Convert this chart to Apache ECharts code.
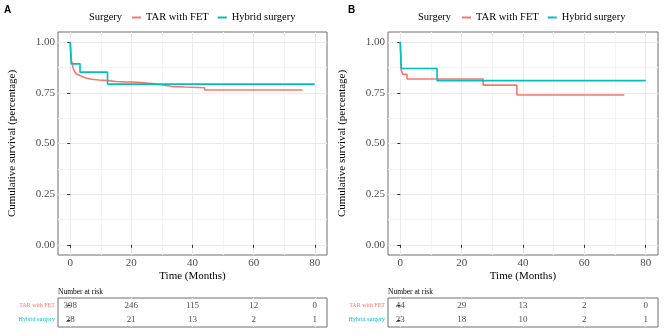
<!DOCTYPE html>
<html><head><meta charset="utf-8">
<script src="https://cdn.jsdelivr.net/npm/echarts@6/dist/echarts.min.js"></script>
<style>html,body{margin:0;padding:0;background:#fff}#c{width:669px;height:336px}</style>
</head><body><div id="c"></div>
<script>
// ---- Data ----
const seriesNames = ['TAR with FET', 'Hybrid surgery'];
// Panel A: Kaplan-Meier step points (time in months, survival)
const timeA_tar = [0, 0.2, 0.4, 0.7, 1.0, 1.5, 2.0, 2.6, 3.3, 4.2, 5.5, 7, 9.5, 12.4, 15, 18, 22, 25, 27.7, 29.7, 33, 37.5, 44, 76];
const survA_tar = [1.0, 0.95, 0.91, 0.89, 0.87, 0.853, 0.843, 0.835, 0.828, 0.822, 0.817, 0.813, 0.810, 0.806, 0.804, 0.802, 0.798, 0.795, 0.79, 0.782, 0.779, 0.775, 0.764, 0.764];
const timeA_hyb = [0, 0.3, 3.2, 12.2, 80];
const survA_hyb = [1.0, 0.893, 0.852, 0.793, 0.793];
// Panel B
const timeB_tar = [0, 0.3, 0.8, 2.2, 27, 38, 73];
const survB_tar = [1.0, 0.864, 0.841, 0.818, 0.788, 0.739, 0.739];
const timeB_hyb = [0, 0.3, 12, 80];
const survB_hyb = [1.0, 0.870, 0.810, 0.810];
// Number at risk tables
const riskTimes = [0, 20, 40, 60, 80];
const riskA_tar = [398, 246, 115, 12, 0];
const riskA_hyb = [28, 21, 13, 2, 1];
const riskB_tar = [44, 29, 13, 2, 0];
const riskB_hyb = [23, 18, 10, 2, 1];
// Tick labels
const xTicks = [0, 20, 40, 60, 80];
const xMinor = [10, 30, 50, 70];
const yTicks = [0, 0.25, 0.5, 0.75, 1.0];
const yMinor = [0.125, 0.375, 0.625, 0.875];

// ---- Styles ----
const RED = '#F8766D', TEAL = '#00BFC4';
const SERIF = '"Liberation Serif", "Times New Roman", serif';
const BORDER = '#6e6e6e';

const zip = (t, s) => t.map((v, i) => [v, s[i]]);
const risk = (vals, cat) => riskTimes.map((t, i) => [t, cat, vals[i]]);

const plotGrids = [
  {left: 58, top: 32, width: 269, height: 223},
  {left: 388, top: 32, width: 270, height: 223}
];
const tableGrids = [
  {left: 58, top: 298, width: 269, height: 29},
  {left: 388, top: 298, width: 270, height: 29}
];
const grids = plotGrids.concat(tableGrids).map(g => Object.assign({show: true, borderColor: BORDER, borderWidth: 1, backgroundColor: 'transparent'}, g));

const xAxes = [], yAxes = [];
function xMajor(gi, withLabel, withName, gridColor) {
  return {
    type: 'value', gridIndex: gi, min: -4, max: 84,
    axisLine: {show: false},
    axisTick: {show: withLabel, customValues: xTicks, length: 3, lineStyle: {color: '#333'}},
    axisLabel: {show: withLabel, customValues: xTicks, margin: 3, color: '#4d4d4d', fontFamily: SERIF, fontSize: 11},
    splitLine: {show: true, lineStyle: {color: gridColor, width: 1}},
    name: withName ? 'Time (Months)' : '', nameLocation: 'middle', nameGap: 16, nameMoveOverlap: false,
    nameTextStyle: {fontFamily: SERIF, fontSize: 11, color: '#000'}
  };
}
function xMinorAxis(gi) {
  return {
    type: 'value', gridIndex: gi, min: -4, max: 84, show: true,
    axisLine: {show: false},
    axisTick: {show: false, customValues: xMinor},
    axisLabel: {show: false, customValues: xMinor},
    splitLine: {show: true, lineStyle: {color: '#f4f4f4', width: 1}}
  };
}
function yMajor(gi) {
  return {
    type: 'value', gridIndex: gi, min: -0.05, max: 1.05,
    axisLine: {show: false},
    axisTick: {show: true, customValues: yTicks, length: 3, lineStyle: {color: '#333'}},
    axisLabel: {show: true, customValues: yTicks, margin: 3, color: '#4d4d4d', fontFamily: SERIF, fontSize: 11,
      formatter: v => v.toFixed(2)},
    splitLine: {show: true, lineStyle: {color: '#ebebeb', width: 1}},
    name: 'Cumulative survival (percentage)', nameLocation: 'middle', nameGap: 40, nameRotate: 90,
    nameTextStyle: {fontFamily: SERIF, fontSize: 11, color: '#000'}
  };
}
function yMinorAxis(gi) {
  return {
    type: 'value', gridIndex: gi, min: -0.05, max: 1.05,
    axisLine: {show: false},
    axisTick: {show: false, customValues: yMinor},
    axisLabel: {show: false, customValues: yMinor},
    splitLine: {show: true, lineStyle: {color: '#f4f4f4', width: 1}}
  };
}
// x axes: 0 plotA major, 1 plotB major, 2 plotA minor, 3 plotB minor, 4 tableA, 5 tableB
xAxes.push(xMajor(0, true, true, '#ebebeb'), xMajor(1, true, true, '#ebebeb'), xMinorAxis(0), xMinorAxis(1),
           xMajor(2, false, false, '#f2f2f2'), xMajor(3, false, false, '#f2f2f2'));
// y axes: 0 plotA, 1 plotB, 2 plotA minor, 3 plotB minor, 4 tableA, 5 tableB
yAxes.push(yMajor(0), yMajor(1), yMinorAxis(0), yMinorAxis(1));
function yTable(gi) {
  return {
    type: 'category', gridIndex: gi, data: seriesNames, inverse: true,
    axisLine: {show: false},
    axisTick: {show: true, length: 3, alignWithLabel: true, lineStyle: {color: '#333'}},
    splitLine: {show: false},
    axisLabel: {margin: 3, fontFamily: SERIF, fontSize: 6,
      formatter: v => (v === seriesNames[0] ? '{r|' : '{h|') + v + '}',
      rich: {r: {color: RED, fontFamily: SERIF, fontSize: 6}, h: {color: TEAL, fontFamily: SERIF, fontSize: 6}}}
  };
}
yAxes.push(yTable(2), yTable(3));

function km(name, color, data, xi, yi) {
  return {type: 'line', name, step: 'end', data, xAxisIndex: xi, yAxisIndex: yi,
    showSymbol: false, symbol: 'none', color, lineStyle: {color, width: 1.6}, z: 5, animation: false};
}
function riskSeries(data, xi, yi) {
  return {type: 'scatter', name: 'risk' + xi, data, xAxisIndex: xi, yAxisIndex: yi,
    encode: {x: 0, y: 1}, symbolSize: 2, itemStyle: {color: 'rgba(0,0,0,0)'}, animation: false, z: 6,
    label: {show: true, position: 'inside', formatter: p => String(p.data[2]), fontFamily: SERIF, fontSize: 9, color: '#222'},
    labelLayout: {hideOverlap: false}};
}

const series = [
  km(seriesNames[0], RED, zip(timeA_tar, survA_tar), 0, 0),
  km(seriesNames[1], TEAL, zip(timeA_hyb, survA_hyb), 0, 0),
  km(seriesNames[0], RED, zip(timeB_tar, survB_tar), 1, 1),
  km(seriesNames[1], TEAL, zip(timeB_hyb, survB_hyb), 1, 1),
  riskSeries(risk(riskA_tar, seriesNames[0]).concat(risk(riskA_hyb, seriesNames[1])), 4, 4),
  riskSeries(risk(riskB_tar, seriesNames[0]).concat(risk(riskB_hyb, seriesNames[1])), 5, 5)
];

const titleStyle = {fontFamily: '"Liberation Sans", Arial, sans-serif', fontSize: 10, fontWeight: 'bold', color: '#000'};
const legTitle = {fontFamily: SERIF, fontSize: 10.5, fontWeight: 'normal', color: '#000'};
const narStyle = {fontFamily: SERIF, fontSize: 7.5, fontWeight: 'normal', color: '#000'};
const legend = (left) => ({
  left, top: 12, data: seriesNames, icon: 'rect', itemWidth: 9, itemHeight: 2, itemGap: 9, padding: 0,
  textStyle: {fontFamily: SERIF, fontSize: 10.5, color: '#000'}, selectedMode: false
});

const chart = echarts.init(document.getElementById('c'), null, {renderer: 'canvas'});
chart.setOption({
  backgroundColor: '#fff',
  animation: false,
  title: [
    {text: 'A', left: 4, top: 5, padding: 0, textStyle: titleStyle},
    {text: 'B', left: 348, top: 5, padding: 0, textStyle: titleStyle},
    {text: 'Surgery', left: 89, top: 12, padding: 0, textStyle: legTitle},
    {text: 'Surgery', left: 418, top: 12, padding: 0, textStyle: legTitle},
    {text: 'Number at risk', left: 58, top: 288, padding: 0, textStyle: narStyle},
    {text: 'Number at risk', left: 388, top: 288, padding: 0, textStyle: narStyle}
  ],
  legend: [legend(132), legend(462)],
  grid: grids,
  xAxis: xAxes,
  yAxis: yAxes,
  series
});
</script></body></html>
